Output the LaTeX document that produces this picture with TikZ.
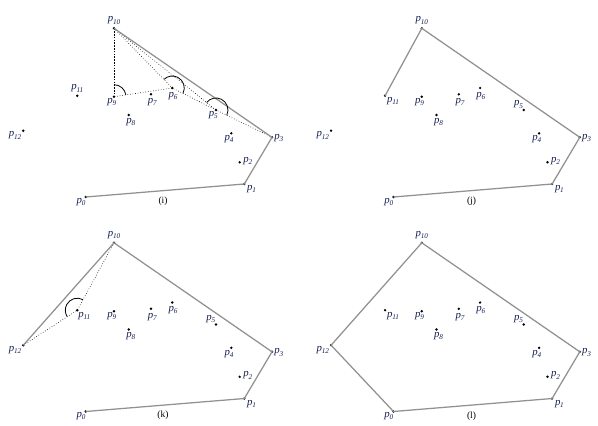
\documentclass[tikz,border=0pt]{standalone}
\usepackage{fontspec}
\setmainfont{Liberation Serif}
\usetikzlibrary{calc}
\definecolor{labcol}{RGB}{20,30,80}
\definecolor{hullgray}{RGB}{145,145,145}
\newcommand\plab[1]{\textit{p}\kern-0.2pt\raisebox{-0.45ex}{\fontsize{7.2}{7.2}\selectfont\itshape #1}}
\def\ptlist{0/85.7/197, 1/244.3/184, 2/239.7/162.3, 3/272/137.3, 4/231.3/133.3, 5/216/110, 6/172.3/88, 7/151/94.3, 8/128.7/115, 9/114/96.7, 10/114/28.3, 11/77.3/95.7, 12/23.3/130.7}
\def\labcommon{0/-4.7/-4.7, 1/7.3/-5.3, 2/8/1.3, 3/6.7/-0.7, 4/-2.3/-6, 6/0.7/-7.7, 7/1.3/-8, 8/2/-6.7, 9/-2.3/-5, 10/0/7.7}
\newcommand\pointpanel[4]{% #1 prefix, #2 dx, #3 dy, #4 extra label list
  \foreach \n/\x/\y in \ptlist {
    \node[pt] (#1\n) at (\x+#2, -\y-#3) {};
  }
  \foreach \n/\dx/\dy in \labcommon {
    \node[lab, xshift=\dx pt, yshift=\dy pt] (#1l\n) at (#1\n.center) {\plab{\n}};
  }
  \foreach \n/\dx/\dy in {#4} {
    \node[lab, xshift=\dx pt, yshift=\dy pt] (#1l\n) at (#1\n.center) {\plab{\n}};
  }
}
\begin{document}
\begin{tikzpicture}[x=1pt,y=1pt,
  pt/.style={circle,fill=black,inner sep=0pt,minimum size=2.7pt},
  lab/.style={font=\fontsize{10.8}{11}\selectfont, text=labcol, inner sep=0pt},
  captxt/.style={font=\fontsize{9.5}{10}\selectfont, inner sep=0pt},
  hull/.style={draw=hullgray,line width=1.25pt},
  probe/.style={draw=black,dotted,line width=0.6pt},
  probedash/.style={draw=black,dash pattern=on 1.6pt off 1.2pt,line width=0.8pt},
  anglearc/.style={draw=black,line width=0.8pt}]
\useasboundingbox (0,0) rectangle (598,-426);

% ---------- panel (i)
\pointpanel{i}{0}{0}{5/-2.7/-5, 11/0/7.3, 12/-8.3/-4.7}
\draw[probe] (i3.center) -- (i5.center) -- (i6.center) -- (i9.center);
\draw[probe] (i10.center) -- (i6.center);
\draw[probe] (i10.center) -- (i5.center);
\draw[probedash] (i10.center) -- (i9.center);
\draw[hull] (i0.center) -- (i1.center) -- (i3.center) -- (i10.center);
\draw[anglearc] (i9.center) ++(8.5:12pt) arc[start angle=8.5, end angle=90, radius=12pt];
\draw[anglearc] (i6.center) ++(-26.7:12pt) arc[start angle=-26.7, end angle=134.3, radius=12pt];
\draw[anglearc] (i5.center) ++(-26:12pt) arc[start angle=-26, end angle=141.3, radius=12pt];
\node[captxt] (capi) at (163,-201) {(i)};

% ---------- panel (j)
\pointpanel{j}{307.8}{0}{5/-5.3/5.5, 11/8/-5.5, 12/-8.3/-4.7}
\draw[hull] (j0.center) -- (j1.center) -- (j3.center) -- (j10.center) -- (j11.center);
\node[captxt] (capj) at (471.5,-201) {(j)};

% ---------- panel (k)
\pointpanel{k}{0}{214.5}{5/-5.3/5.5, 11/7/-5.5, 12/-8.3/-4.7}
\draw[probe] (k12.center) -- (k11.center) -- (k10.center);
\draw[hull] (k0.center) -- (k1.center) -- (k3.center) -- (k10.center) -- (k12.center);
\draw[anglearc] (k11.center) ++(61.4:12pt) arc[start angle=61.4, end angle=212.9, radius=12pt];
\node[captxt] (capk) at (163,-415) {(k)};

% ---------- panel (l)
\pointpanel{l}{307.8}{214.5}{5/-5.3/5.5, 11/8/-5.5, 12/-8.3/-4.7}
\draw[hull] (l0.center) -- (l1.center) -- (l3.center) -- (l10.center) -- (l12.center) -- cycle;
\node[captxt] (capl) at (471.5,-416) {(l)};
\end{tikzpicture}
\end{document}
